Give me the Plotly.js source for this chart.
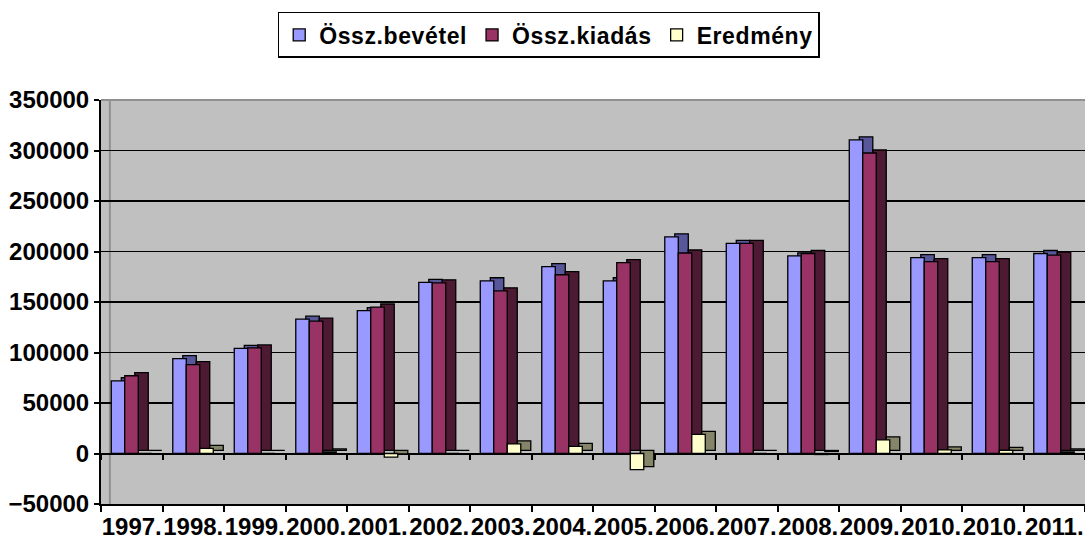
<!DOCTYPE html>
<html>
<head>
<meta charset="utf-8">
<script src="https://cdn.plot.ly/plotly-3.0.1.min.js"></script>
<style>
html,body{margin:0;padding:0;background:#fff;}
#chart{width:1085px;height:545px;}
.legendtext{letter-spacing:0.6px;}
</style>
</head>
<body>
<div id="chart"></div>
<script>
// ---- data ----
const categories = ['1997.','1998.','1999.','2000.','2001.','2002.','2003.','2004.','2005.','2006.','2007.','2008.','2009.','2010.','2010.','2011.'];
const bevetel  = [72000, 94000, 104000, 133000, 141500, 169500, 171000, 185000, 171000, 214500, 208000, 195700, 310500, 194000, 194000, 198000];
const kiadas   = [77000, 88000, 104500, 131000, 145000, 169000, 161000, 177000, 189000, 198500, 208000, 198000, 297500, 190000, 190000, 196500];
const eredmeny = [0, 5000, 0, 1500, -3500, 0, 9500, 7000, -16000, 19000, 0, -1000, 13500, 3500, 3000, 1500];
const seriesNames = ['Össz.bevétel', 'Össz.kiadás', 'Eredmény'];
const tickValues = [-50000, 0, 50000, 100000, 150000, 200000, 250000, 300000, 350000];

// ---- styling ----
const FONT = 'Liberation Sans, Arial, sans-serif';
const frontColors = ['#9999FF', '#993366', '#FFFFCC'];
const sideColors  = ['#57579A', '#4D1A33', '#85856A'];
const barW = 0.2195;
const offsets = [-0.333, -0.114, 0.106];
const depthX = 0.163, depthY = 3000;

const idx = categories.map((_, i) => i);
const seriesVals = [bevetel, kiadas, eredmeny];

const traces = [];
// front faces (drawn on the overlaying axis x2, so above the back faces)
seriesVals.forEach((vals, s) => {
  traces.push({
    type: 'bar', x: idx, y: vals, name: seriesNames[s], xaxis: 'x2',
    offset: offsets[s], width: barW,
    marker: {color: frontColors[s], line: {color: '#000', width: 1.3}}
  });
});
// back faces (give the 3D look)
seriesVals.forEach((vals, s) => {
  traces.push({
    type: 'bar', x: idx, y: vals, base: depthY, xaxis: 'x',
    offset: offsets[s] + depthX, width: barW,
    marker: {color: sideColors[s], line: {color: '#000', width: 1.3}},
    showlegend: false, hoverinfo: 'skip'
  });
});

const layout = {
  width: 1085, height: 545,
  margin: {l: 101, r: 0, t: 100, b: 41},
  paper_bgcolor: '#fff', plot_bgcolor: '#C0C0C0',
  barmode: 'overlay',
  font: {family: FONT, color: '#000'},
  xaxis: {
    range: [-0.5, 15.5], tickvals: idx, ticktext: categories, tickangle: 0,
    ticks: '', showgrid: false, zeroline: false,
    showline: true, linecolor: '#000', linewidth: 2,
    minor: {tick0: 0.5, dtick: 1, ticks: 'outside', ticklen: 6, tickwidth: 2, tickcolor: '#000', showgrid: false},
    tickfont: {family: FONT, size: 24, weight: 'bold'},
    fixedrange: true
  },
  xaxis2: {
    overlaying: 'x', anchor: 'free', position: 0.125, side: 'bottom',
    range: [-0.5, 15.5], tick0: 0.5, dtick: 1, showticklabels: false,
    ticks: 'outside', ticklen: 5, tickwidth: 2, tickcolor: '#000',
    showgrid: false, zeroline: false, showline: false, fixedrange: true
  },
  yaxis: {
    range: [-50000, 350000], tickvals: tickValues, tickformat: 'd',
    ticks: 'outside', ticklen: 5, tickwidth: 2, tickcolor: '#000',
    showline: true, linecolor: '#000', linewidth: 2,
    showgrid: true, gridcolor: '#000', gridwidth: 1.5,
    zeroline: true, zerolinecolor: '#000', zerolinewidth: 2,
    tickfont: {family: FONT, size: 24, weight: 'bold'},
    fixedrange: true
  },
  legend: {
    orientation: 'h', x: 0.455, xanchor: 'center', y: 1.218, yanchor: 'top',
    bgcolor: '#fff', bordercolor: '#000', borderwidth: 1.5,
    font: {family: FONT, size: 23, weight: 'bold'},
    traceorder: 'normal', itemwidth: 30
  },
  shapes: [
    {type: 'line', xref: 'paper', yref: 'paper', x0: 0, x1: 1, y0: 1, y1: 1,
     line: {color: '#909090', width: 2}, layer: 'below'},
    {type: 'line', xref: 'paper', yref: 'paper', x0: 0.009, x1: 0.009, y0: 0, y1: 1,
     line: {color: '#909090', width: 2}, layer: 'below'}
  ]
};

Plotly.newPlot('chart', traces, layout, {displayModeBar: false, staticPlot: true});
</script>
</body>
</html>
